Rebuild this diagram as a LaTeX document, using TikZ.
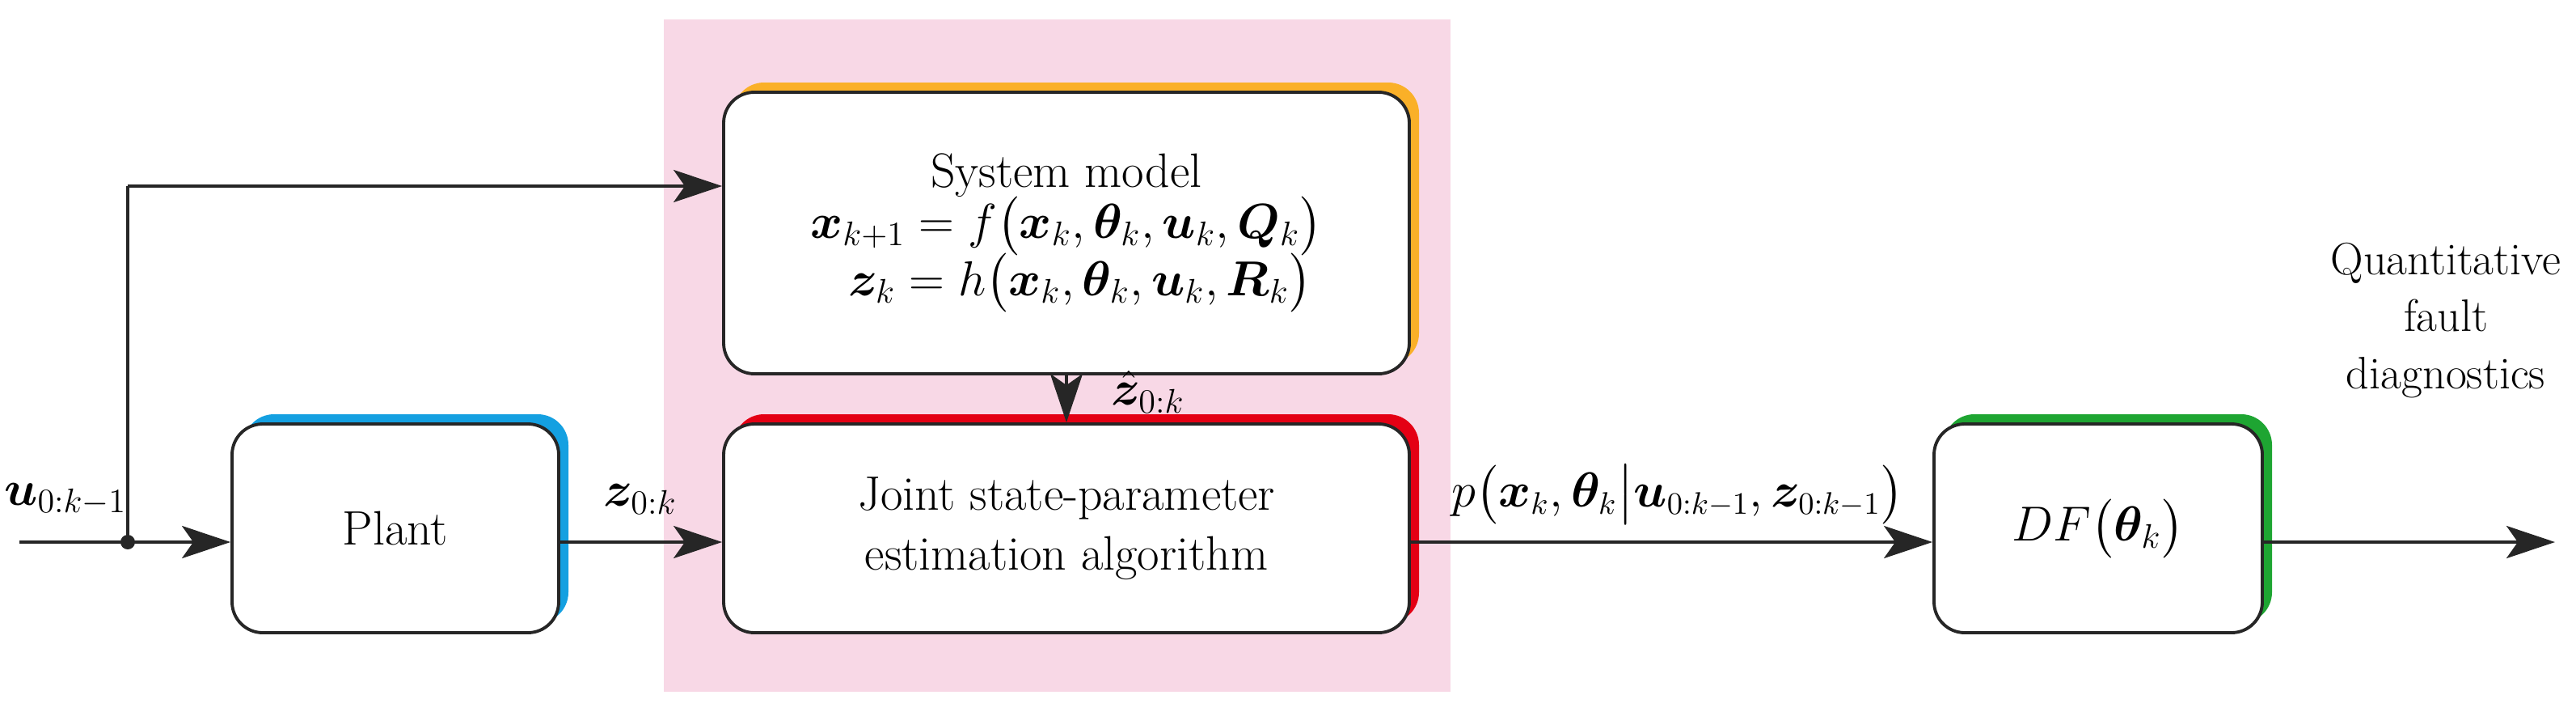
\documentclass[tikz,border=0pt]{standalone}
\usepackage{amsmath,bm}
\usetikzlibrary{arrows.meta}
\definecolor{pinkbg}{RGB}{248,216,230}
\definecolor{sorange}{RGB}{250,176,40}
\definecolor{sred}{RGB}{228,0,20}
\definecolor{sblue}{RGB}{20,160,225}
\definecolor{sgreen}{RGB}{30,165,50}
\begin{document}
\fontsize{17}{21}\selectfont
\begin{tikzpicture}[
  box/.style={draw=black!85,line width=1.1pt,rounded corners=0.38cm,fill=white,align=center,inner sep=0pt},
  shad/.style={rounded corners=0.38cm},
  arr/.style={line width=1.1pt,draw=black!85,-{Stealth[length=0.6cm,width=0.4cm,inset=0.14cm]}},
  ln/.style={line width=1.1pt,draw=black!85},
  lab/.style={font=\fontsize{17}{21}\selectfont}]
\useasboundingbox (0,0) rectangle (31.86,8.79);
\fill[pinkbg] (8.21,0.24) rectangle (17.94,8.55);
% shadows
\fill[shad,sorange] (9.07,4.29) rectangle (17.55,7.77);
\fill[shad,sred] (9.07,1.09) rectangle (17.55,3.67);
\fill[shad,sblue] (3.01,1.09) rectangle (7.03,3.67);
\fill[shad,sgreen] (24.04,1.09) rectangle (28.10,3.67);
% boxes
\node[box,minimum width=8.48cm,minimum height=3.48cm] (sys) at (13.19,5.91)
 {System model\\[-3pt]
 $\bm{x}_{k+1}=f\bigl(\bm{x}_k,\bm{\theta}_k,\bm{u}_k,\bm{Q}_k\bigr)$\\[-1pt]
 $\;\;\bm{z}_k=h\bigl(\bm{x}_k,\bm{\theta}_k,\bm{u}_k,\bm{R}_k\bigr)$};
\node[box,minimum width=8.48cm,minimum height=2.58cm] (jsp) at (13.19,2.26)
 {Joint state-parameter\\estimation algorithm};
\node[box,minimum width=4.04cm,minimum height=2.58cm] (plant) at (4.89,2.26) {Plant};
\node[box,minimum width=4.06cm,minimum height=2.58cm] (df) at (25.95,2.26)
 {$DF\bigl(\bm{\theta}_k\bigr)$};
% connectors
\coordinate (in) at (0.24,2.09);
\coordinate (dot) at (1.58,2.09);
\coordinate (top) at (1.58,6.49);
\coordinate (out) at (31.6,2.09);
\draw[ln] (in) -- (dot) -- (top);
\draw[arr] (top) -- (top -| sys.west);
\draw[arr] (dot) -- (dot -| plant.west);
\fill[black!85] (dot) circle (0.09);
\draw[arr] (plant.east |- dot) -- (jsp.west |- dot);
\draw[arr] (sys.south) -- (jsp.north);
\draw[arr] (jsp.east |- dot) -- (df.west |- dot);
\draw[arr] (df.east |- dot) -- (out);
% labels
\node[lab] (lu) at (0.81,2.62) {$\bm{u}_{0:k-1}$};
\node[lab] (lz) at (7.92,2.62) {$\bm{z}_{0:k}$};
\node[lab] (lzh) at (14.2,3.95) {$\hat{\bm{z}}_{0:k}$};
\node[lab,font=\fontsize{16}{20}\selectfont] (lp) at (20.75,2.68) {$p\bigl(\bm{x}_k,\bm{\theta}_k\big|\bm{u}_{0:k-1},\bm{z}_{0:k-1}\bigr)$};
\node[lab,align=center,font=\fontsize{16}{20}\selectfont] (lq) at (30.25,4.83) {Quantitative\\fault\\diagnostics};
\end{tikzpicture}
\end{document}
